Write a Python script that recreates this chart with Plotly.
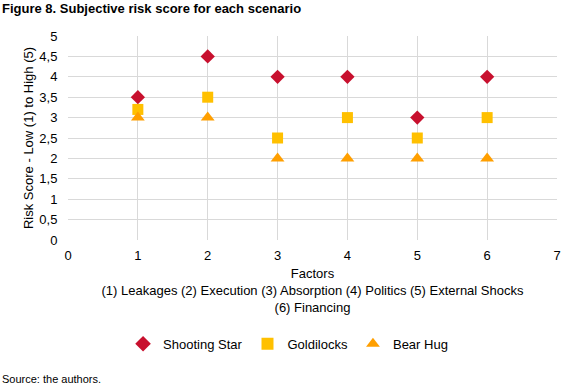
import plotly.graph_objects as go

factors = [1, 2, 3, 4, 5, 6]
shooting_star = [3.5, 4.5, 4, 4, 3, 4]
goldilocks = [3.2, 3.5, 2.5, 3, 2.5, 3]
bear_hug = [3, 3, 2, 2, 2, 2]
y_tickvals = [0, 0.5, 1, 1.5, 2, 2.5, 3, 3.5, 4, 4.5, 5]
y_ticktext = ["0", "0,5", "1", "1,5", "2", "2,5", "3", "3,5", "4", "4,5", "5"]
x_tickvals = [0, 1, 2, 3, 4, 5, 6, 7]

font = "Liberation Sans, Arial, sans-serif"

fig = go.Figure()
fig.add_trace(go.Scatter(x=factors, y=shooting_star, mode="markers", name="Shooting Star",
                         marker=dict(symbol="diamond", size=11, color="#C8102E")))
fig.add_trace(go.Scatter(x=factors, y=goldilocks, mode="markers", name="Goldilocks",
                         marker=dict(symbol="square", size=11, color="#FFC000")))
fig.add_trace(go.Scatter(x=factors, y=bear_hug, mode="markers", name="Bear Hug",
                         marker=dict(symbol="triangle-up", size=12, color="#FF9F00")))

fig.update_layout(
    width=579, height=385,
    margin=dict(l=68, r=22, t=36, b=145, autoexpand=False),
    paper_bgcolor="white", plot_bgcolor="white",
    font=dict(family=font, size=13, color="#000000"),
    showlegend=True,
    legend=dict(orientation="h", x=0.45, xanchor="center", y=-0.435, yanchor="top",
                font=dict(size=13), itemwidth=30, itemsizing="constant", tracegroupgap=0),
    xaxis=dict(range=[0, 7], tickvals=x_tickvals, showgrid=True, gridcolor="#D9D9D9",
               gridwidth=1, zeroline=False, showline=False, ticks="outside", ticklen=3,
               tickcolor="rgba(0,0,0,0)", automargin=False,
               tickfont=dict(size=13),
               title=dict(text="Factors<br>(1) Leakages (2) Execution (3) Absorption (4) Politics (5) External Shocks<br>(6) Financing",
                          font=dict(size=13), standoff=7)),
    yaxis=dict(range=[0, 5], tickvals=y_tickvals, ticktext=y_ticktext, showgrid=True,
               gridcolor="#D9D9D9", gridwidth=1, zeroline=False, showline=False,
               ticks="outside", ticklen=7, tickcolor="rgba(0,0,0,0)", automargin=False,
               tickfont=dict(size=13),
               title=dict(text="Risk Score - Low (1) to High (5)", font=dict(size=13), standoff=2)),
    annotations=[
        dict(text="<b>Figure 8. Subjective risk score for each scenario</b>", xref="paper", yref="paper",
             x=0, xanchor="left", y=1, yanchor="middle", showarrow=False,
             font=dict(size=13), xshift=-68, yshift=28),
        dict(text="Source: the authors.", xref="paper", yref="paper", x=0, xanchor="left",
             y=0, yanchor="middle", showarrow=False, font=dict(size=11), xshift=-68, yshift=-139),
    ],
)
fig.write_html("out.html", config={"displayModeBar": False},
               post_script="document.body.style.margin='0px';")
